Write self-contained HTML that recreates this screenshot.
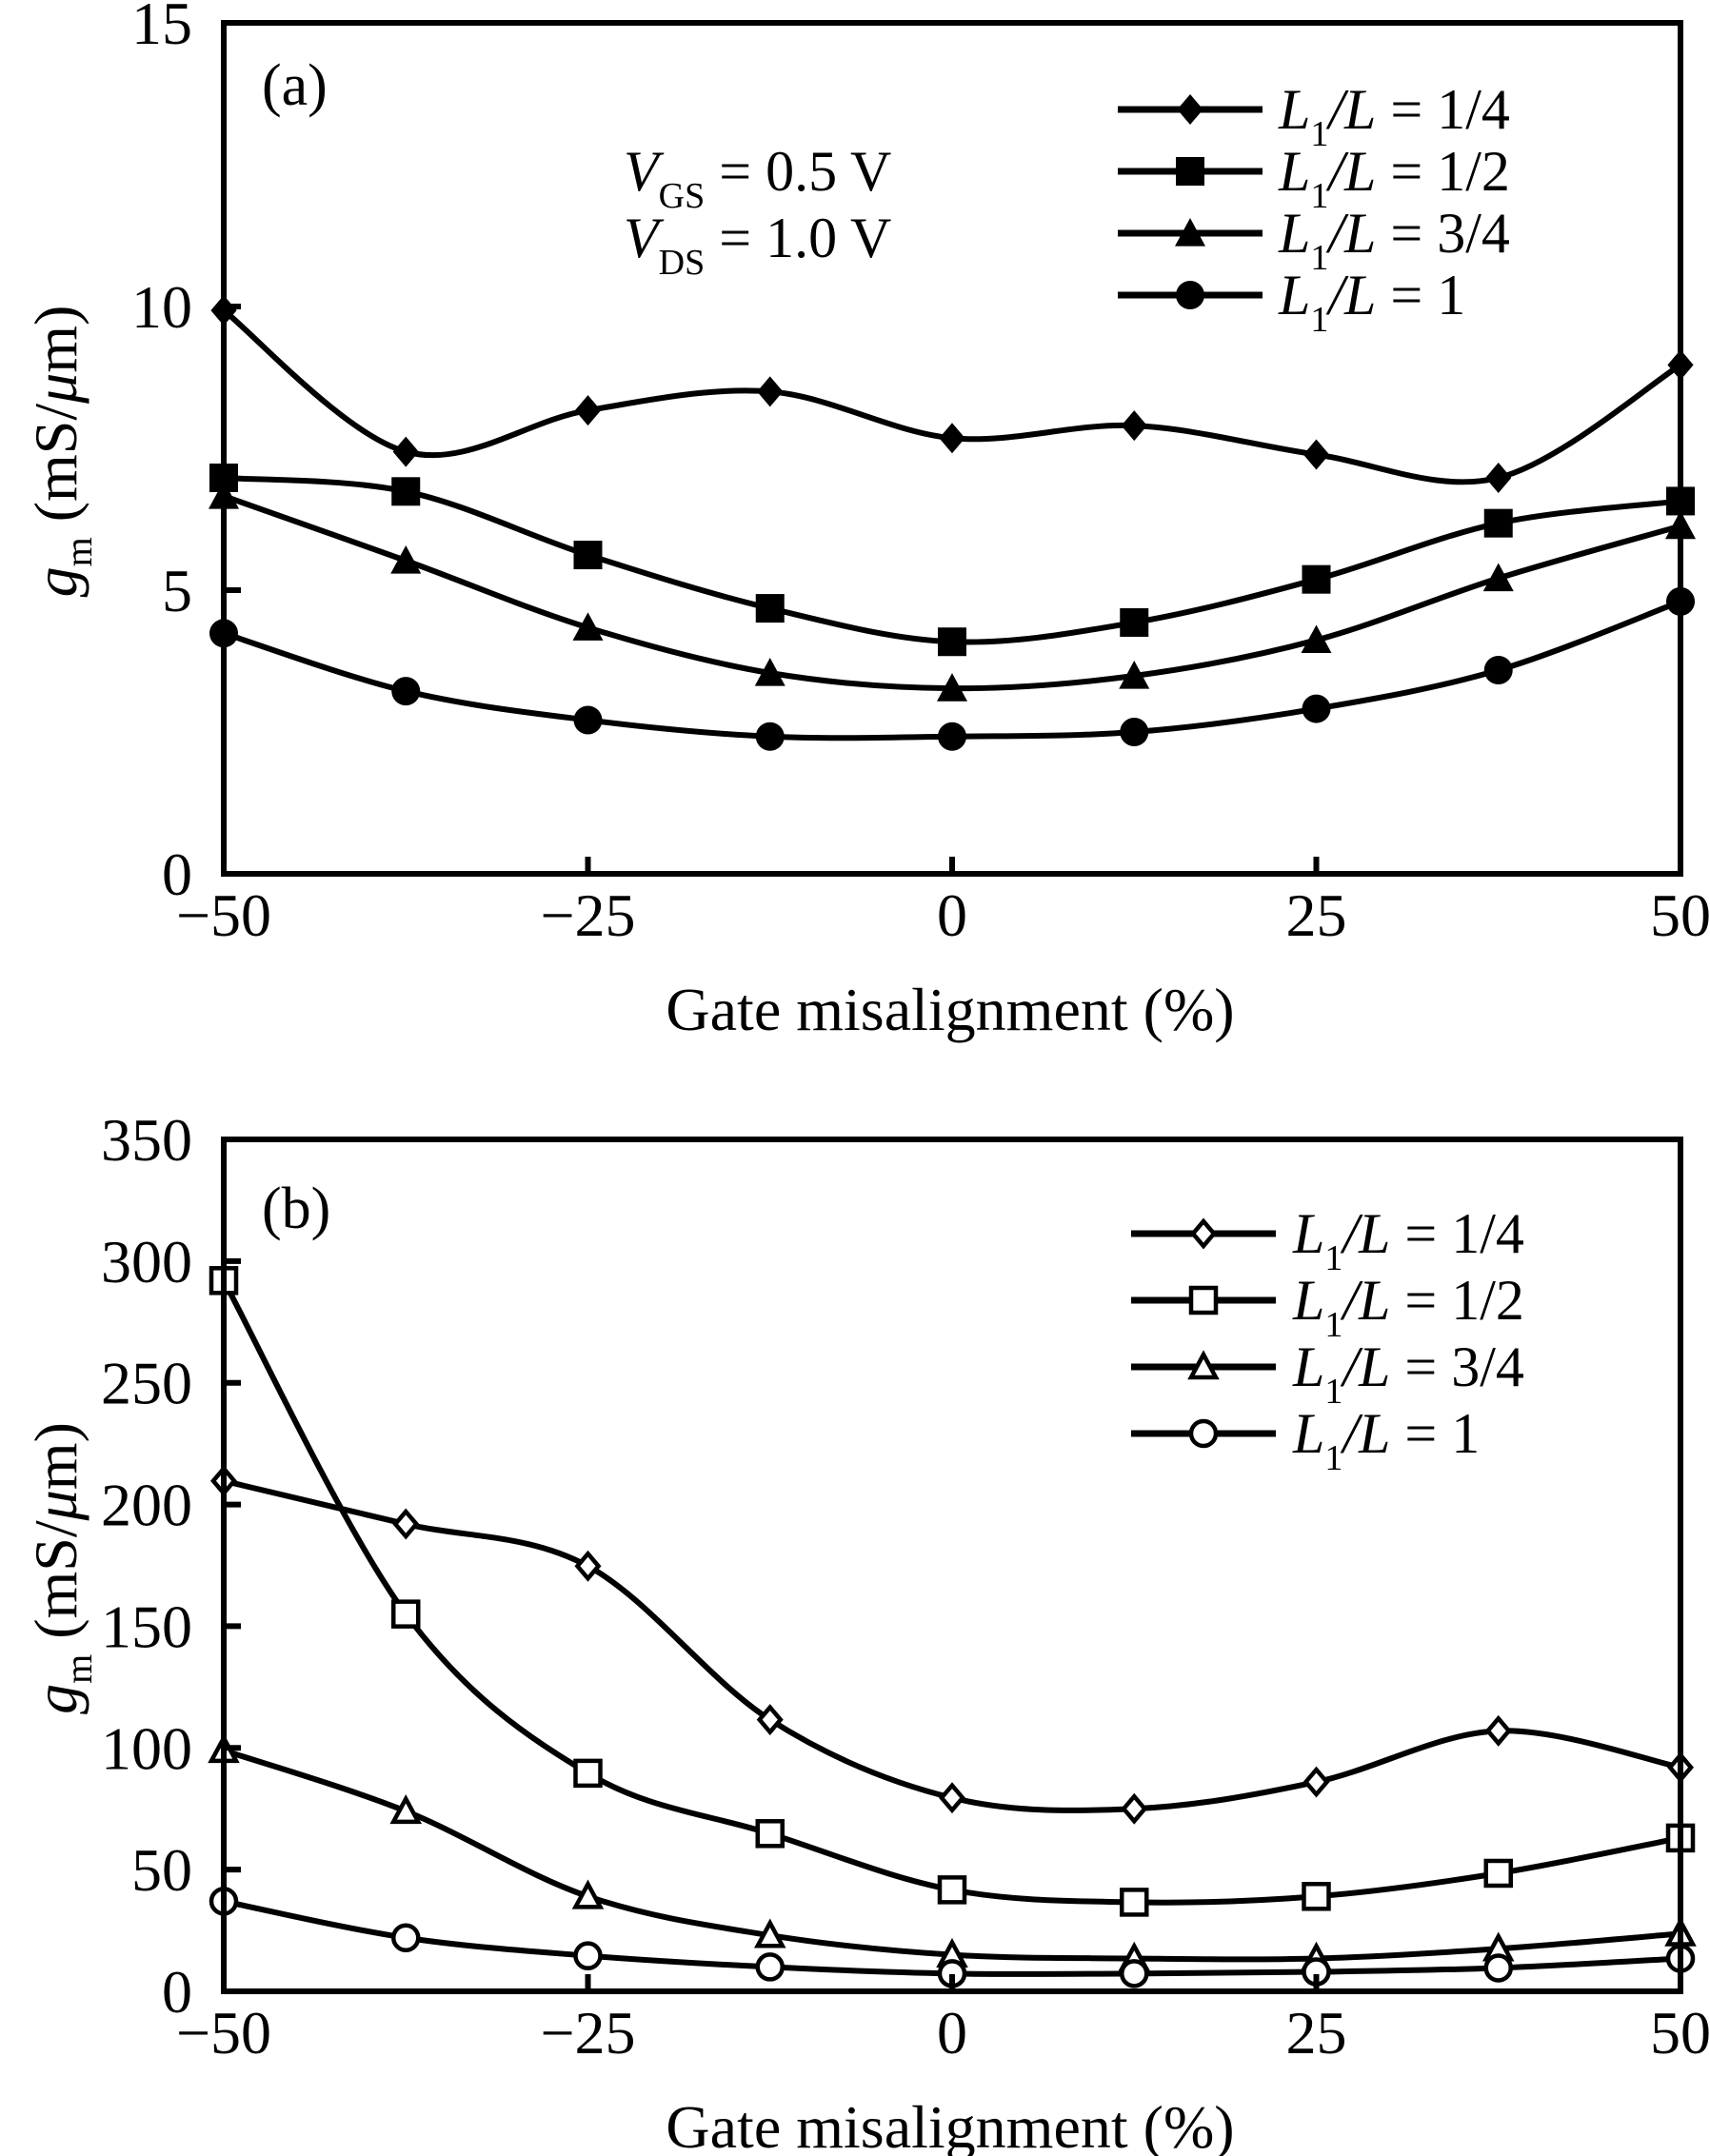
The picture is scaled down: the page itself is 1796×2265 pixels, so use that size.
<!DOCTYPE html>
<html><head><meta charset="utf-8"><style>
html,body{margin:0;padding:0;background:#fff}
svg{display:block}
text{font-family:"Liberation Serif",serif;fill:#000}
</style></head><body>
<svg id="chart" width="1796" height="2265" viewBox="0 0 1796 2265" xmlns="http://www.w3.org/2000/svg"></svg>
<script>
const xCats = [-50, -37.5, -25, -12.5, 0, 12.5, 25, 37.5, 50];
const xTickVals = [-50, -25, 0, 25, 50];
const xTickLabels = ["\u221250", "\u221225", "0", "25", "50"];
const seriesNames = ["1/4", "1/2", "3/4", "1"];
// panel (a)
const aTickVals = [0, 5, 10, 15];
const aS1 = [9.93, 7.44, 8.17, 8.5, 7.68, 7.9, 7.39, 6.98, 8.97];
const aS2 = [6.98, 6.74, 5.62, 4.68, 4.09, 4.43, 5.19, 6.18, 6.57];
const aS3 = [6.66, 5.52, 4.34, 3.54, 3.27, 3.49, 4.12, 5.21, 6.13];
const aS4 = [4.24, 3.22, 2.71, 2.42, 2.42, 2.5, 2.91, 3.59, 4.8];
// panel (b)
const bTickVals = [0, 50, 100, 150, 200, 250, 300, 350];
const bS1 = [209.7, 192, 174.7, 111.6, 79.5, 75, 86, 107, 92];
const bS2 = [292, 155, 89.6, 64.8, 41.7, 36.6, 39, 48.5, 63];
const bS3 = [99, 74, 39, 23, 15, 13.5, 13.5, 17.5, 23.7];
const bS4 = [37, 22, 14.6, 10, 7.3, 7.3, 8, 9.6, 13.5];

const NS = "http://www.w3.org/2000/svg";
const svg = document.getElementById("chart");
function mk(tag, attrs, parent) {
  const e = document.createElementNS(NS, tag);
  for (const k in attrs) e.setAttribute(k, attrs[k]);
  (parent || svg).appendChild(e);
  return e;
}
const X0 = 235, X1 = 1765;
function xs(v) { return X0 + (v + 50) / 100 * (X1 - X0); }

function spline(pts) {
  let d = "M" + pts[0][0] + "," + pts[0][1];
  for (let i = 0; i < pts.length - 1; i++) {
    const p0 = pts[Math.max(0, i - 1)], p1 = pts[i], p2 = pts[i + 1], p3 = pts[Math.min(pts.length - 1, i + 2)];
    const c1x = p1[0] + (p2[0] - p0[0]) / 6, c1y = p1[1] + (p2[1] - p0[1]) / 6;
    const c2x = p2[0] - (p3[0] - p1[0]) / 6, c2y = p2[1] - (p3[1] - p1[1]) / 6;
    d += " C" + c1x + "," + c1y + " " + c2x + "," + c2y + " " + p2[0] + "," + p2[1];
  }
  return d;
}

function marker(g, kind, filled, x, y) {
  const st = filled ? {fill: "#000"} : {fill: "#fff", stroke: "#000", "stroke-width": 4.5};
  let e;
  if (kind === 0) {
    const r = filled ? 16 : 13;
    e = mk("polygon", Object.assign({points: `${x},${y - r} ${x + r * 0.85},${y} ${x},${y + r} ${x - r * 0.85},${y}`}, st), g);
  } else if (kind === 1) {
    const h = filled ? 15 : 13;
    e = mk("rect", Object.assign({x: x - h, y: y - h, width: 2 * h, height: 2 * h}, st), g);
  } else if (kind === 2) {
    const h = filled ? 16 : 13;
    e = mk("polygon", Object.assign({points: `${x},${y - h} ${x + h},${y + h * 0.85} ${x - h},${y + h * 0.85}`}, st), g);
  } else {
    const r = filled ? 15 : 13;
    e = mk("ellipse", Object.assign({cx: x, cy: y, rx: r, ry: r}, st), g);
  }
  return e;
}

function panel(opts) {
  const {Y0, Y1, ymax, ticks, series, filled, label, labelY, legX, legY, legStep, textX, id} = opts;
  const ys = v => Y1 - v / ymax * (Y1 - Y0);
  const g = mk("g", {});
  
  
  // series
  series.forEach((vals, si) => {
    const sg = mk("g", {}, g);
    
    
    const pts = vals.map((v, i) => [xs(xCats[i]), ys(v)]);
    const p = mk("path", {d: spline(pts), fill: "none", stroke: "#000", "stroke-width": 6}, sg);
    
    
    pts.forEach(pt => {
      const m = marker(sg, si, filled, pt[0], pt[1]);
      
      
    });
  });
  // axes frame
  const fr = mk("rect", {x: X0, y: Y0, width: X1 - X0, height: Y1 - Y0, fill: "none", stroke: "#000", "stroke-width": 6}, g);
  
  
  // y ticks
  ticks.forEach(t => {
    const y = ys(t);
    if (t > 0 && t < ymax) {
      const tk = mk("line", {x1: X0, x2: X0 + 18, y1: y, y2: y, stroke: "#000", "stroke-width": 6}, g);
      
      
    }
    const tl = mk("text", {x: 202, y: y + 22, "font-size": 64, "text-anchor": "end"}, g);
    tl.textContent = String(t);
    
    
  });
  // x ticks
  xTickVals.forEach((t, i) => {
    const x = xs(t);
    if (t > -50 && t < 50) {
      const tk = mk("line", {x1: x, x2: x, y1: Y1, y2: Y1 - 18, stroke: "#000", "stroke-width": 6}, g);
      
      
    }
    const tl = mk("text", {x: x, y: Y1 + 65, "font-size": 64, "text-anchor": "middle"}, g);
    tl.textContent = xTickLabels[i];
    
    
  });
  // x title
  const xt = mk("text", {x: 998, y: Y1 + 164, "font-size": 64, "text-anchor": "middle"}, g);
  xt.textContent = "Gate misalignment (%)";
  
  
  // y title
  const yt = mk("text", {x: 0, y: 0, "font-size": 64, "text-anchor": "middle", transform: `translate(80,${(Y0 + Y1) / 2 + 3}) rotate(-90)`}, g);
  yt.innerHTML = '<tspan font-style="italic">g</tspan><tspan font-size="40" dy="16">m</tspan><tspan dy="-16"> (mS/</tspan><tspan font-style="italic">\u03bc</tspan><tspan>m)</tspan>';
  
  
  // panel label
  const pl = mk("text", {x: 275, y: labelY, "font-size": 62}, g);
  pl.textContent = label;
  
  
  // legend
  const lg = mk("g", {}, g);
  
  
  seriesNames.forEach((n, i) => {
    const y = legY + i * legStep;
    const eg = mk("g", {}, lg);
    
    
    mk("line", {x1: legX, x2: legX + 152, y1: y, y2: y, stroke: "#000", "stroke-width": 7}, eg);
    marker(eg, i, filled, legX + 76, y);
    const t = mk("text", {x: textX, y: y + 20, "font-size": 60}, eg);
    t.innerHTML = '<tspan font-style="italic">L</tspan><tspan font-size="38" dy="18">1</tspan><tspan dy="-18" font-style="italic">/L</tspan><tspan> = ' + n + '</tspan>';
  });
  return {g, ys};
}

panel({id: "a", Y0: 24, Y1: 918, ymax: 15, ticks: aTickVals, series: [aS1, aS2, aS3, aS4], filled: true,
  label: "(a)", labelY: 110, legX: 1174, legY: 115, legStep: 65, textX: 1343});
panel({id: "b", Y0: 1197, Y1: 2092, ymax: 350, ticks: bTickVals, series: [bS1, bS2, bS3, bS4], filled: false,
  label: "(b)", labelY: 1290, legX: 1188, legY: 1296, legStep: 70, textX: 1358});

// condition annotation
const ann = mk("g", {});


const t1 = mk("text", {x: 655, y: 200, "font-size": 60}, ann);
t1.innerHTML = '<tspan font-style="italic">V</tspan><tspan font-size="38" dy="18">GS</tspan><tspan dy="-18"> = 0.5 V</tspan>';
const t2 = mk("text", {x: 655, y: 270, "font-size": 60}, ann);
t2.innerHTML = '<tspan font-style="italic">V</tspan><tspan font-size="38" dy="18">DS</tspan><tspan dy="-18"> = 1.0 V</tspan>';
</script>
</body></html>
